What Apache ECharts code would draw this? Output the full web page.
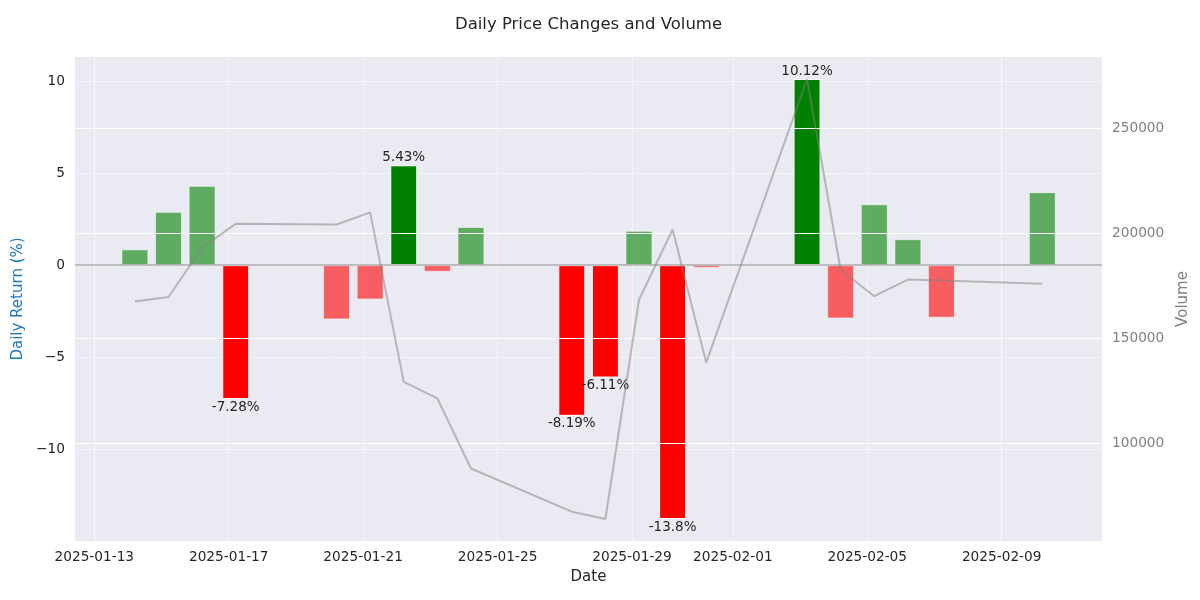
<!DOCTYPE html>
<html><head><meta charset="utf-8">
<script src="https://cdn.jsdelivr.net/npm/echarts@6/dist/echarts.min.js"></script>
<style>html,body{margin:0;padding:0;background:#fff}#c{width:1200px;height:600px}</style>
</head><body><div id="c"></div>
<script>
// ---- data ----
const dates = ['2025-01-14','2025-01-15','2025-01-16','2025-01-17','2025-01-20','2025-01-21','2025-01-22','2025-01-23','2025-01-24','2025-01-27','2025-01-28','2025-01-29','2025-01-30','2025-01-31','2025-02-03','2025-02-04','2025-02-05','2025-02-06','2025-02-07','2025-02-10'];
const sampleTime = 'T05:00:00Z';
const dailyReturn = [0.86, 2.9, 4.31, -7.28, -2.95, -1.87, 5.43, -0.36, 2.08, -8.19, -6.11, 1.87, -13.8, -0.15, 10.12, -2.9, 3.31, 1.41, -2.86, 3.97];
const volume = [167600, 169700, 193200, 204600, 204300, 210100, 129200, 121300, 87900, 67300, 63800, 168400, 201900, 138400, 273700, 182700, 170100, 178000, 177600, 176000];
const xTickDates = ['2025-01-13','2025-01-17','2025-01-21','2025-01-25','2025-01-29','2025-02-01','2025-02-05','2025-02-09'];
const returnTicks = [-10, -5, 0, 5, 10];
const volumeTicks = [100000, 150000, 200000, 250000];
const labelThreshold = 5;

// ---- build ----
const GRID = { left: 75, right: 98, top: 57, bottom: 59 };
const BAR_W = 27;
const ts = d => Date.parse(d + sampleTime);
const tickTs = xTickDates.map(d => Date.parse(d + 'T00:00:00Z'));
const DAY = 86400000;
// wanted visible extent of the time axis
const wantMin = Date.parse('2025-01-13T00:00:00Z') - 0.574 * DAY;
const wantMax = Date.parse('2025-02-09T00:00:00Z') + 2.985 * DAY;
// ECharts widens a bar base axis by the bar width; pre-shrink so the final extent is the wanted one
const axisLen = 1200 - GRID.left - GRID.right;
const wantRange = wantMax - wantMin;
const preRange = wantRange * (1 - BAR_W / axisLen);
const xMin = wantMin + (wantRange - preRange) / 2;
const xMax = wantMax - (wantRange - preRange) / 2;

const rMin = Math.min(...dailyReturn), rMax = Math.max(...dailyReturn);
const rPad = (rMax - rMin) * 0.05;
const vMin = Math.min(...volume), vMax = Math.max(...volume);
const vPad = (vMax - vMin) * 0.05;

const fmtPct = v => String(+v.toFixed(2)) + '%';
const barData = dates.map((d, i) => {
  const r = dailyReturn[i];
  const big = Math.abs(r) > labelThreshold;
  return {
    value: [ts(d), r],
    itemStyle: { color: r >= 0 ? '#008000' : '#ff0000', opacity: big ? 1 : 0.6 },
    label: { show: big, position: r >= 0 ? 'top' : 'bottom', distance: 1, formatter: () => fmtPct(r) }
  };
});
const lineData = dates.map((d, i) => [ts(d), volume[i]]);

const FONT = 'DejaVu Sans';
const chart = echarts.init(document.getElementById('c'));
chart.setOption({
  useUTC: true,
  animation: false,
  backgroundColor: '#ffffff',
  textStyle: { fontFamily: FONT },
  title: {
    text: 'Daily Price Changes and Volume',
    left: 583.5, top: 11, textAlign: 'center',
    textStyle: { fontFamily: FONT, fontSize: 16.5, fontWeight: 'normal', color: '#262626' }
  },
  grid: Object.assign({ show: true, backgroundColor: '#eaeaf2', borderWidth: 0, outerBoundsMode: 'none', containLabel: false }, GRID),
  xAxis: {
    type: 'time', min: xMin, max: xMax,
    name: 'Date', nameLocation: 'middle', nameGap: 29,
    nameTextStyle: { fontFamily: FONT, fontSize: 15, color: '#262626' },
    axisLine: { show: false }, axisTick: { show: false, customValues: tickTs },
    axisLabel: { customValues: tickTs, formatter: '{yyyy}-{MM}-{dd}', fontFamily: FONT, fontSize: 13.7, color: '#262626', margin: 9, hideOverlap: false },
    splitLine: { show: true, lineStyle: { color: 'rgba(255,255,255,0.5)', width: 1 } }
  },
  yAxis: [{
    type: 'value', min: rMin - rPad, max: rMax + rPad,
    name: 'Daily Return (%)', nameLocation: 'middle', nameGap: 39,
    nameTextStyle: { fontFamily: FONT, fontSize: 15, color: '#1f77b4' },
    axisLine: { show: false }, axisTick: { show: false, customValues: returnTicks },
    axisLabel: { customValues: returnTicks, formatter: v => String(v).replace('-', '\u2212'), fontFamily: FONT, fontSize: 13.7, color: '#262626', margin: 10 },
    splitLine: { show: true, lineStyle: { color: 'rgba(255,255,255,0.5)', width: 1 } }
  }, {
    type: 'value', min: vMin - vPad, max: vMax + vPad, position: 'right', z: 3,
    name: 'Volume', nameLocation: 'middle', nameGap: 52,
    nameTextStyle: { fontFamily: FONT, fontSize: 15, color: '#808080' },
    axisLine: { show: false }, axisTick: { show: false, customValues: volumeTicks },
    axisLabel: { customValues: volumeTicks, formatter: v => String(v), fontFamily: FONT, fontSize: 13.7, color: '#808080', margin: 10 },
    splitLine: { show: true, lineStyle: { color: '#ffffff', width: 1.2 } }
  }],
  series: [{
    type: 'bar', yAxisIndex: 0, barWidth: BAR_W, z: 2,
    itemStyle: { borderColor: '#ffffff', borderWidth: 1 },
    label: { fontFamily: FONT, fontSize: 13.5, color: '#262626' },
    data: barData,
    markLine: {
      silent: true, symbol: 'none', label: { show: false }, z: 4,
      lineStyle: { color: 'rgba(128,128,128,0.45)', width: 2, type: 'solid' },
      data: [{ yAxis: 0 }]
    }
  }, {
    type: 'line', yAxisIndex: 1, z: 5, showSymbol: false, symbol: 'none',
    lineStyle: { color: 'rgba(128,128,128,0.5)', width: 2 },
    data: lineData
  }]
});
</script></body></html>
